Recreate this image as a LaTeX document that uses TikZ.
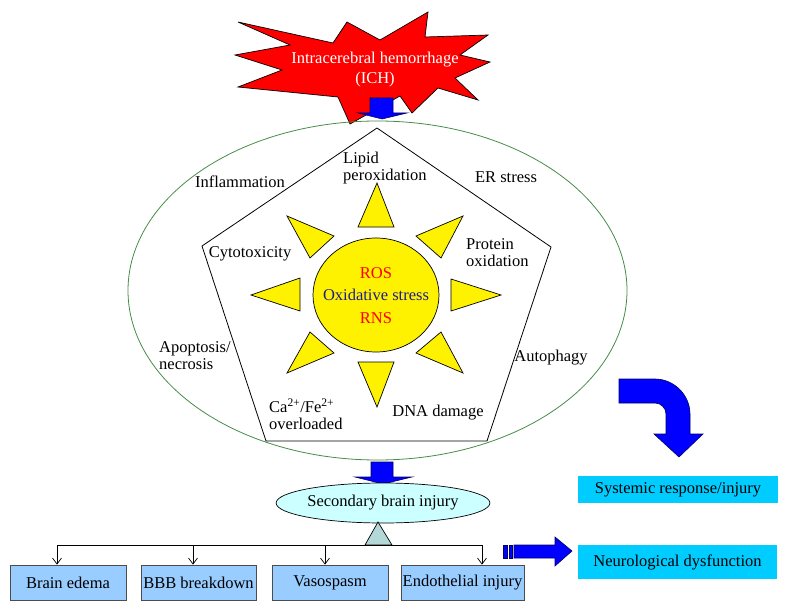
\documentclass[tikz,border=0pt]{standalone}
\usepackage{fontspec}
\setmainfont{Liberation Serif}
\usetikzlibrary{arrows.meta,shapes.geometric}
\definecolor{boxblue}{RGB}{153,204,255}
\definecolor{skyfill}{RGB}{0,204,255}
\definecolor{palecyan}{RGB}{204,255,255}
\definecolor{paleteal}{RGB}{178,216,216}
\definecolor{ringgreen}{RGB}{70,140,70}
\definecolor{arrowblue}{RGB}{0,0,255}
\definecolor{navytext}{RGB}{30,30,140}

\begin{document}
\begin{tikzpicture}[x=1pt,y=-1pt,
    lbl/.style={font=\fontsize{16.5}{17}\selectfont, inner sep=0pt},
    effect/.style={lbl, draw=black!70, fill=boxblue, minimum height=35pt, line width=0.7pt},
    sysbox/.style={lbl, fill=skyfill},
    ray/.style={draw=black, fill=yellow, line width=0.7pt},
    blockarrow/.style={draw=blue!40!black, fill=arrowblue, line width=0.6pt},
    drop/.style={-{Straight Barb[length=6pt,width=9pt]}, line width=0.7pt}]
    \useasboundingbox (0,0) rectangle (788,610);

    % ICH burst
    \draw[fill=red, line width=0.7pt] (238,22) -- (333,43) -- (347,22) -- (380,40) -- (428,12)
        -- (425,37) -- (488,35) -- (460,55) -- (490,62) -- (455,78) -- (478,100) -- (438,88)
        -- (412,113) -- (400,96) -- (350,124) -- (338,97) -- (238,87) -- (282,70) -- (235,55)
        -- (290,45) -- cycle;
    \node[lbl, text=white, align=center] (ich) at (375,70) {Intracerebral hemorrhage\\[3pt](ICH)};
    \draw[blockarrow] (370,98) -- (393,98) -- (393,113) -- (407,113) -- (382,119) -- (358,113)
        -- (370,113) -- cycle;

    % ring and pentagon
    \draw[ringgreen, line width=0.8pt] (377.5,290.5) ellipse [x radius=249.5, y radius=169.5];
    \draw[line width=0.8pt] (377,128) -- (551,247) -- (487,441) -- (266,441) -- (202,246) -- cycle;

    % sun
    \draw[ray] (376,295) ellipse [x radius=63, y radius=57];
    \draw[ray] (358,227) -- (377,183) -- (394,227) -- cycle;
    \draw[ray] (358,362) -- (377,407) -- (394,362) -- cycle;
    \draw[ray] (300,278) -- (251,295) -- (300,311) -- cycle;
    \draw[ray] (451,279) -- (501,295) -- (451,311) -- cycle;
    \draw[ray] (287,216) -- (334,236) -- (310,258) -- cycle;
    \draw[ray] (287,373) -- (334,353) -- (310,332) -- cycle;
    \draw[ray] (463,216) -- (416,236) -- (441,258) -- cycle;
    \draw[ray] (463,373) -- (416,353) -- (441,332) -- cycle;
    \node[lbl, text=red] (ros) at (376,273) {ROS};
    \node[lbl, text=navytext] (oxs) at (376,295) {Oxidative stress};
    \node[lbl, text=red] (rns) at (376,318) {RNS};

    % mechanisms
    \node[lbl] (inflam) at (240,182) {Inflammation};
    \node[lbl, anchor=west, align=left] (lipid) at (343,168) {Lipid\\peroxidation};
    \node[lbl] (er) at (506,177) {ER stress};
    \node[lbl] (cyto) at (250,254) {Cytotoxicity};
    \node[lbl, anchor=west, align=left] (protein) at (466,252.5) {Protein\\oxidation};
    \node[lbl, anchor=west, align=left] (apop) at (159,355.5) {Apoptosis/\\necrosis};
    \node[lbl] (autoph) at (551,358) {Autophagy};
    \node[lbl, anchor=west, align=left] (ion) at (269,414) {Ca\textsuperscript{2+}/Fe\textsuperscript{2+}\\overloaded};
    \node[lbl] (dna) at (438,413) {DNA damage};

    % secondary injury
    \draw[blockarrow] (371,462) -- (393,462) -- (393,477) -- (412,477) -- (383,484) -- (355,477)
        -- (371,477) -- cycle;
    \node[lbl, draw, ellipse, fill=palecyan, line width=0.7pt, minimum width=210pt,
        minimum height=40pt] (sbi) at (383,503) {Secondary brain injury};
    \draw[fill=paleteal, line width=0.7pt] (378,522) -- (392,545) -- (365,545) -- cycle;
    \coordinate (hub) at (378,545);

    \node[effect, minimum width=116pt] (edema) at (68,582.5) {Brain edema};
    \node[effect, minimum width=115pt] (bbb) at (198.5,582.5) {BBB breakdown};
    \node[effect, minimum width=116pt] (vaso) at (330,582.5) {Vasospasm};
    \node[effect, minimum width=123pt] (endo) at (462.5,582.5) {Endothelial injury};
    \draw[drop] (hub) -| ([xshift=-11pt]edema.north);
    \draw[drop] (hub) -| ([xshift=-5.5pt]bbb.north);
    \draw[drop] (hub) -| ([xshift=-5pt]vaso.north);
    \draw[drop] (hub) -| ([xshift=19.5pt]endo.north);

    % outcomes
    \node[sysbox, minimum width=200pt, minimum height=27pt] (sys) at (678,489.5) {Systemic response/injury};
    \node[sysbox, minimum width=199pt, minimum height=34pt] (neuro) at (677.5,562) {Neurological dysfunction};
    \draw[blockarrow] (619,379) -- (655,379) .. controls (674,379) and (690,395) .. (690,414)
        -- (690,434) -- (703,434) -- (679,457) -- (654,434) -- (666,434) -- (666,414)
        .. controls (666,408) and (661,403) .. (655,403) -- (619,403) -- cycle;
    \draw[blockarrow] (503,545) rectangle (507,558);
    \draw[blockarrow] (509,545) rectangle (512,558);
    \draw[blockarrow] (514,545) -- (555,545) -- (555,537) -- (572,551) -- (555,566) -- (555,558)
        -- (514,558) -- cycle;
\end{tikzpicture}
\end{document}
